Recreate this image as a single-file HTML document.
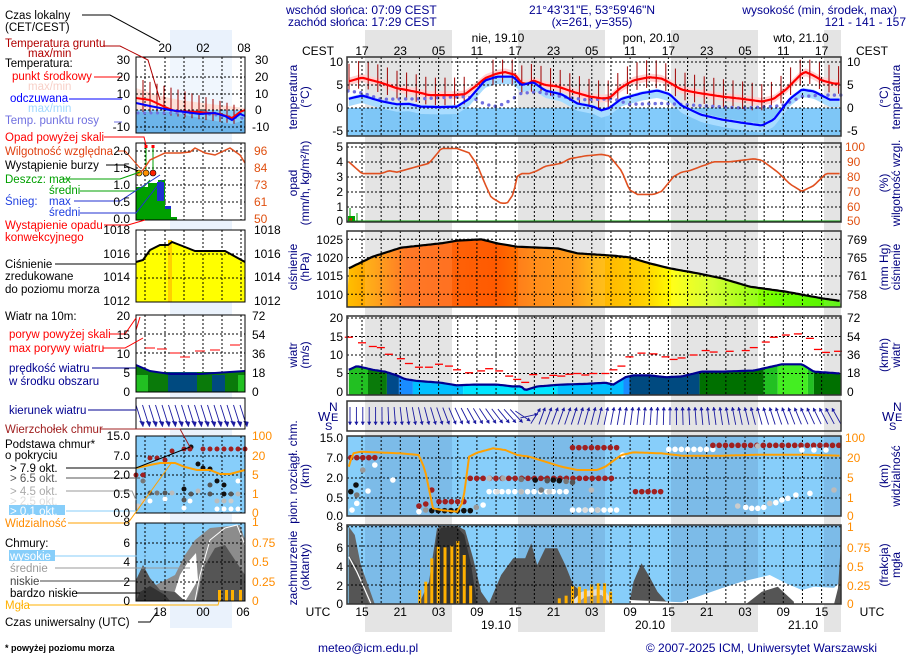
<!DOCTYPE html>
<html><head><meta charset="utf-8">
<style>
html,body{margin:0;padding:0;background:#fff;}
svg{display:block;font-family:"Liberation Sans",sans-serif;}
text{font-size:12px;}
.ax{fill:#000080;font-size:13px;}
.t{fill:#000;}
</style></head>
<body>
<svg id="s" width="910" height="660" viewBox="0 0 910 660" xmlns="http://www.w3.org/2000/svg">
<defs>
<linearGradient id="pg" x1="347" x2="841" y1="0" y2="0" gradientUnits="userSpaceOnUse">
<stop offset="0" stop-color="#ffc000"/>
<stop offset="0.05" stop-color="#ffa000"/>
<stop offset="0.12" stop-color="#ff6a10"/>
<stop offset="0.3" stop-color="#ff5a00"/>
<stop offset="0.38" stop-color="#ff8000"/>
<stop offset="0.46" stop-color="#ff9000"/>
<stop offset="0.5" stop-color="#ffb000"/>
<stop offset="0.6" stop-color="#ffd000"/>
<stop offset="0.66" stop-color="#ffff00"/>
<stop offset="0.74" stop-color="#d0ff20"/>
<stop offset="0.8" stop-color="#a0ff00"/>
<stop offset="0.87" stop-color="#70ff00"/>
<stop offset="1" stop-color="#50f000"/>
</linearGradient>
</defs>
<g id="bg"></g>
<g id="main"></g>
<g id="left"></g>
<text x="286" y="14" fill="#000090">wschód słońca: 07:09 CEST</text>
<text x="288" y="26" fill="#000090">zachód słońca: 17:29 CEST</text>
<text x="592" y="14" fill="#000090" text-anchor="middle">21°43'31"E, 53°59'46"N</text>
<text x="592" y="26" fill="#000090" text-anchor="middle">(x=261,  y=355)</text>
<text x="897" y="14" fill="#000090" text-anchor="end">wysokość (min, środek, max)</text>
<text x="872" y="26" fill="#000090" text-anchor="middle">121 - 141 - 157 m</text>
<text x="498" y="42" text-anchor="middle">nie, 19.10</text>
<text x="651" y="42" text-anchor="middle">pon, 20.10</text>
<text x="801" y="42" text-anchor="middle">wto, 21.10</text>
<text x="318" y="55" text-anchor="middle">CEST</text>
<text x="872" y="55" text-anchor="middle">CEST</text>
<g text-anchor="middle" id="hours"></g>
<g class="ax" text-anchor="middle">
<text transform="translate(297,97) rotate(-90)">temperatura</text>
<text transform="translate(309,97) rotate(-90)">(°C)</text>
<text transform="translate(297,183) rotate(-90)">opad</text>
<text transform="translate(309,183) rotate(-90)">(mm/h, kg/m²/h)</text>
<text transform="translate(297,267) rotate(-90)">ciśnienie</text>
<text transform="translate(309,267) rotate(-90)">(hPa)</text>
<text transform="translate(297,355) rotate(-90)">wiatr</text>
<text transform="translate(309,355) rotate(-90)">(m/s)</text>
<text transform="translate(297,472) rotate(-90)">pion. rozciągł. chm.</text>
<text transform="translate(309,476) rotate(-90)">(km)</text>
<text transform="translate(297,568) rotate(-90)">zachmurzenie</text>
<text transform="translate(309,567) rotate(-90)">(oktanty)</text>
<text transform="translate(888,97) rotate(-90)">(°C)</text>
<text transform="translate(900,97) rotate(-90)">temperatura</text>
<text transform="translate(888,183) rotate(-90)">(%)</text>
<text transform="translate(900,183) rotate(-90)">wilgotność wzgl.</text>
<text transform="translate(888,267) rotate(-90)">(mm Hg)</text>
<text transform="translate(900,267) rotate(-90)">ciśnienie</text>
<text transform="translate(888,355) rotate(-90)">(km/h)</text>
<text transform="translate(900,355) rotate(-90)">wiatr</text>
<text transform="translate(888,476) rotate(-90)">(km)</text>
<text transform="translate(900,476) rotate(-90)">widzialność</text>
<text transform="translate(888,565) rotate(-90)">(frakcja)</text>
<text transform="translate(900,565) rotate(-90)">mgła</text>
</g>
<g fill="#000080" font-size="13">
<text x="318" y="421" style="font-size:13px">W</text><text x="329" y="411" style="font-size:12px">N</text><text x="331" y="421" style="font-size:11px">E</text><text x="325" y="430" style="font-size:11px">S</text>
<text x="882" y="421" style="font-size:13px">W</text><text x="893" y="411" style="font-size:12px">N</text><text x="895" y="421" style="font-size:11px">E</text><text x="889" y="430" style="font-size:11px">S</text>
</g>
<g text-anchor="end" class="t">
<text x="343" y="66">10</text><text x="343" y="89">5</text><text x="343" y="112">0</text><text x="343" y="135">-5</text>
<text x="343" y="151">5</text><text x="343" y="166">4</text><text x="343" y="181">3</text><text x="343" y="196">2</text><text x="343" y="211">1</text><text x="343" y="225">0</text>
<text x="343" y="244">1025</text><text x="343" y="262">1020</text><text x="343" y="280">1015</text><text x="343" y="299">1010</text>
<text x="343" y="322">20</text><text x="343" y="341">15</text><text x="343" y="359">10</text><text x="343" y="377">5</text><text x="343" y="396">0</text>
<text x="343" y="442">15.0</text><text x="343" y="462">7.0</text><text x="343" y="482">2.0</text><text x="343" y="502">0.5</text><text x="343" y="520">0.0</text>
<text x="343" y="531">8</text><text x="343" y="552">6</text><text x="343" y="571">4</text><text x="343" y="590">2</text><text x="343" y="608">0</text>
</g>
<g class="t">
<text x="847" y="66">10</text><text x="847" y="89">5</text><text x="847" y="112">0</text><text x="847" y="135">-5</text>
<text x="847" y="244">769</text><text x="847" y="262">765</text><text x="847" y="280">761</text><text x="847" y="299">758</text>
<text x="847" y="322">72</text><text x="847" y="341">54</text><text x="847" y="359">36</text><text x="847" y="377">18</text><text x="847" y="396">0</text>
</g>
<g fill="#e05010">
<text x="845" y="151">100</text><text x="847" y="166">90</text><text x="847" y="181">80</text><text x="847" y="196">70</text><text x="847" y="211">60</text><text x="847" y="225">50</text>
</g>
<g fill="#ff8c00">
<text x="845" y="442">100</text><text x="847" y="462">20</text><text x="847" y="482">5</text><text x="847" y="502">1</text><text x="847" y="520">0</text>
<text x="847" y="531">1</text><text x="847" y="552">0.75</text><text x="847" y="571">0.5</text><text x="847" y="590">0.25</text><text x="847" y="608">0</text>
</g>
<text x="318" y="616" text-anchor="middle">UTC</text>
<text x="872" y="616" text-anchor="middle">UTC</text>
<g id="utc" text-anchor="middle"></g>
<text x="496" y="629" text-anchor="middle">19.10</text>
<text x="650" y="629" text-anchor="middle">20.10</text>
<text x="803" y="629" text-anchor="middle">21.10</text>
<text x="318" y="652" fill="#000090">meteo@icm.edu.pl</text>
<text x="877" y="652" fill="#000090" text-anchor="end">© 2007-2025 ICM, Uniwersytet Warszawski</text>

<g style="font-size:11.5px">
<text x="5" y="19" style="font-size:11.5px">Czas lokalny</text>
<text x="5" y="31" style="font-size:11.5px">(CET/CEST)</text>
<text x="5" y="47" fill="#b00000" style="font-size:11.5px">Temperatura gruntu</text>
<text x="28" y="57" fill="#b00000" style="font-size:11.5px">max/min</text>
<text x="5" y="67" style="font-size:11.5px">Temperatura:</text>
<text x="12" y="80" fill="#ff0000" style="font-size:11.5px">punkt środkowy</text>
<text x="28" y="90" fill="#f8d0c8" style="font-size:11.5px">max/min</text>
<text x="10" y="102" fill="#0000ff" style="font-size:11.5px">odczuwana</text>
<text x="28" y="112" fill="#a0d8ff" style="font-size:11.5px">max/min</text>
<text x="5" y="124" fill="#7070e0" style="font-size:11.5px">Temp. punktu rosy</text>
<text x="5" y="141" fill="#ff0000" style="font-size:11.5px">Opad powyżej skali</text>
<text x="5" y="155" fill="#e04010" style="font-size:11.5px">Wilgotność względna</text>
<text x="5" y="169" style="font-size:11.5px">Wystąpienie burzy</text>
<text x="5" y="183" fill="#00a000" style="font-size:11.5px">Deszcz: max</text>
<text x="49" y="194" fill="#00a000" style="font-size:11.5px">średni</text>
<text x="5" y="205" fill="#2040e0" style="font-size:11.5px">Śnieg:</text>
<text x="49" y="205" fill="#2040e0" style="font-size:11.5px">max</text>
<text x="49" y="216" fill="#2040e0" style="font-size:11.5px">średni</text>
<text x="5" y="229" fill="#ff0000" style="font-size:11.5px">Wystąpienie opadu</text>
<text x="5" y="241" fill="#ff0000" style="font-size:11.5px">konwekcyjnego</text>
<text x="5" y="268" style="font-size:11.5px">Ciśnienie</text>
<text x="5" y="280" style="font-size:11.5px">zredukowane</text>
<text x="5" y="293" style="font-size:11.5px">do poziomu morza</text>
<text x="5" y="320" style="font-size:11.5px">Wiatr na 10m:</text>
<text x="9" y="338" fill="#ff0000" style="font-size:11.5px">poryw powyżej skali</text>
<text x="9" y="352" fill="#ff0000" style="font-size:11.5px">max porywy wiatru</text>
<text x="9" y="372" fill="#000090" style="font-size:11.5px">prędkość wiatru</text>
<text x="9" y="385" fill="#000090" style="font-size:11.5px">w środku obszaru</text>
<text x="9" y="414" fill="#000090" style="font-size:11.5px">kierunek wiatru</text>
<text x="5" y="433" fill="#a02020" style="font-size:11.5px">Wierzchołek chmur</text>
<text x="5" y="448" style="font-size:11.5px">Podstawa chmur*</text>
<text x="5" y="459" style="font-size:11.5px">o pokryciu</text>
<text x="10" y="472" style="font-size:11.5px">&gt; 7.9 okt.</text>
<text x="10" y="482" fill="#555" style="font-size:11.5px">&gt; 6.5 okt.</text>
<rect x="9" y="485" width="56" height="9" fill="#fff"/>
<text x="10" y="495" fill="#aaa" style="font-size:11.5px">&gt; 4.5 okt.</text>
<text x="10" y="505" fill="#ddd" style="font-size:11.5px">&gt; 2.5 okt.</text>
<rect x="9" y="505" width="56" height="10" fill="#87cefa"/>
<text x="10" y="515" fill="#fff" style="font-size:11.5px">&gt; 0.1 okt.</text>
<text x="5" y="527" fill="#ff8c00" style="font-size:11.5px">Widzialność</text>
<text x="5" y="547" style="font-size:11.5px">Chmury:</text>
<rect x="9" y="550" width="46" height="11" fill="#87cefa"/>
<text x="10" y="560" fill="#fff" style="font-size:11.5px">wysokie</text>
<text x="10" y="572" fill="#999" style="font-size:11.5px">średnie</text>
<text x="10" y="585" fill="#444" style="font-size:11.5px">niskie</text>
<text x="10" y="597" style="font-size:11.5px">bardzo niskie</text>
<text x="5" y="609" fill="#ffb000" style="font-size:11.5px">Mgła</text>
<text x="5" y="626" style="font-size:11.5px">Czas uniwersalny (UTC)</text>
<text x="5" y="651" style="font-size:9px;font-weight:bold">* powyżej poziomu morza</text>
</g>
<g text-anchor="middle">
<text x="165" y="52">20</text><text x="203" y="52">02</text><text x="244" y="52">08</text>
<text x="160" y="616">18</text><text x="203" y="616">00</text><text x="243" y="616">06</text>
</g>
<g text-anchor="end" style="font-size:11px">
<text x="130" y="64">30</text><text x="130" y="81">20</text><text x="130" y="98">10</text><text x="130" y="114">0</text><text x="130" y="131">-10</text>
<text x="130" y="155">2.0</text><text x="130" y="172">1.5</text><text x="130" y="189">1.0</text><text x="130" y="206">0.5</text><text x="130" y="223">0.0</text>
<text x="130" y="234">1018</text><text x="130" y="258">1016</text><text x="130" y="281">1014</text><text x="130" y="305">1012</text>
<text x="130" y="320">20</text><text x="130" y="339">15</text><text x="130" y="358">10</text><text x="130" y="377">5</text><text x="130" y="396">0</text>
<text x="130" y="440">15.0</text><text x="130" y="460">7.0</text><text x="130" y="479">2.0</text><text x="130" y="498">0.5</text><text x="130" y="517">0.0</text>
<text x="130" y="526">8</text><text x="130" y="547">6</text><text x="130" y="566">4</text><text x="130" y="586">2</text><text x="130" y="605">0</text>
</g>
<g style="font-size:11px">
<text x="255" y="64">30</text><text x="255" y="81">20</text><text x="255" y="98">10</text><text x="255" y="114">0</text><text x="252" y="131">-10</text>
<text x="254" y="234">1018</text><text x="254" y="258">1016</text><text x="254" y="281">1014</text><text x="254" y="305">1012</text>
<text x="252" y="320">72</text><text x="252" y="339">54</text><text x="252" y="358">36</text><text x="252" y="377">18</text><text x="252" y="396">0</text>
</g>
<g fill="#e05010" style="font-size:11px"><text x="254" y="155">96</text><text x="254" y="172">84</text><text x="254" y="189">73</text><text x="254" y="206">61</text><text x="254" y="223">50</text></g>
<g fill="#ff8c00" style="font-size:11px"><text x="252" y="440">100</text><text x="252" y="460">20</text><text x="252" y="479">5</text><text x="252" y="498">1</text><text x="252" y="517">0</text>
<text x="252" y="526">1</text><text x="252" y="547">0.75</text><text x="252" y="566">0.5</text><text x="252" y="586">0.25</text><text x="252" y="605">0</text></g>
</svg>
<script>
(function(){
var NS='http://www.w3.org/2000/svg';
function el(t,a,p){var e=document.createElementNS(NS,t);for(var k in a)e.setAttribute(k,a[k]);p.appendChild(e);return e;}
var bg=document.getElementById('bg'),M=document.getElementById('main'),L=document.getElementById('left');
var X=function(z){return 362+0.401*(z-203);};
function P(pts){return 'M'+pts.map(function(p){return p[0].toFixed(1)+','+p[1].toFixed(1);}).join('L');}
function ip(d,z){if(z<=d[0][0])return d[0][1];for(var i=1;i<d.length;i++){if(z<=d[i][0]){var a=d[i-1],b=d[i];return a[1]+(b[1]-a[1])*(z-a[0])/(b[0]-a[0]);}}return d[d.length-1][1];}
var nights=[[365,452],[518,605],[671,758],[824,841]];
el('rect',{x:170,y:30,width:62,height:598,fill:'#eaf2fc'},bg);
nights.forEach(function(n){el('rect',{x:n[0],y:30,width:n[1]-n[0],height:602,fill:'#e4e4e4'},bg);});
var H=document.getElementById('hours'),U=document.getElementById('utc');
var lab=['17','23','05','11','17','23','05','11','17','23','05','11','17'];
var ul=['15','21','03','09','15','21','03','09','15','21','03','09','15'];
for(var i=0;i<13;i++){var x=362+38.3*i;var t=el('text',{x:x,y:55},H);t.textContent=lab[i];var u=el('text',{x:x,y:616},U);u.textContent=ul[i];}
function panel(y0,y1,bgc,nightc){
  el('rect',{x:347,y:y0,width:494,height:y1-y0,fill:bgc},M);
  if(nightc)nights.forEach(function(n){el('rect',{x:n[0],y:y0,width:n[1]-n[0],height:y1-y0,fill:nightc},M);});
}
function grid(y0,y1,ys){
  var g=el('g',{stroke:'#000','stroke-width':1,'stroke-dasharray':'2,2',fill:'none'},M);
  for(var k=0;k<26;k++){var x=362+19.15*k;if(x<840)el('line',{x1:x,y1:y0,x2:x,y2:y1},g);}
  ys.forEach(function(y){el('line',{x1:347,y1:y,x2:841,y2:y},g);});
}
function frame(y0,y1){el('rect',{x:347,y:y0,width:494,height:y1-y0,fill:'none',stroke:'#333','stroke-width':1.5},M);}
var yT=function(T){return 108-4.6*T;};
panel(57,136,'#fff','#e4e4e4');
el('rect',{x:347,y:108,width:494,height:28,fill:'rgba(100,190,250,0.8)'},M);
var red=[[170,5.8],[203,6.6],[250,5.5],[290,4.3],[340,3.5],[370,2.8],[430,2.8],[460,3],[490,5],[510,6.5],[540,7.5],[560,7.8],[585,7.2],[600,5.5],[615,5.2],[630,6],[660,5],[690,4.7],[730,3.5],[770,2.5],[800,2.1],[820,2.2],[850,4.5],[880,6],[920,6.7],[950,6.4],[970,5.5],[1000,4],[1040,3.3],[1100,2.5],[1150,2.0],[1200,1.4],[1230,2],[1260,4],[1300,7.5],[1310,7.8],[1330,7],[1350,6],[1380,5.3],[1397,5.3]];
var blue=[[170,2],[203,2.7],[250,1.5],[290,0.8],[320,0.9],[350,0.3],[400,0.2],[440,0.3],[470,2],[510,6],[540,6.8],[580,6.8],[600,5],[615,5.3],[630,5.6],[660,3.8],[700,3],[740,1],[780,0.3],[800,-0.5],[820,0],[850,2],[900,3.2],[940,3.8],[970,3],[1000,0.5],[1050,-1.5],[1100,-2.5],[1150,-3.2],[1200,-3.8],[1230,-2.5],[1270,2],[1300,4],[1330,3.6],[1370,1.8],[1397,1.8]];
var zs=[];for(var z=170;z<=1397;z+=6)zs.push(z);
function band(d,up,dn,col){var a=zs.map(function(z){return [X(z),yT(ip(d,z)+up)];});var b=zs.slice().reverse().map(function(z){return [X(z),yT(ip(d,z)-dn)];});el('path',{d:P(a.concat(b))+'Z',fill:col},M);}
band(red,0.8,0.9,'#ffd2d2');
band(blue,0.4,1.6,'#a8dcff');
var g=el('g',{stroke:'#a00000','stroke-width':1},M);
for(var x=349;x<840;x+=9.6){var z=(x-362)/0.401+203;var r=ip(red,z);var top=Math.min(r+3.8,10.5),bot=Math.max(r-2.2,-0.5);if(z>480&&z<520)continue;el('line',{x1:x,y1:yT(top),x2:x,y2:yT(bot)},g);}
var dew=[[170,3.7],[203,3.3],[250,1.9],[350,2],[450,2.5],[480,2.2],[510,0.8],[540,0.3],[570,1.5],[600,3.2],[640,3.5],[700,2.5],[760,1.8],[830,2],[870,0.8],[950,1],[1000,0.8],[1050,0.5],[1150,0],[1200,0.2],[1250,0.5],[1300,2.5],[1350,2.8],[1397,2.8]];
for(var x=348;x<842;x+=6.4){var z=(x-362)/0.401+203;el('circle',{cx:x,cy:yT(ip(dew,z)),r:1.7,fill:'#6f6fe0'},M);}
grid(57,136,[yT(10),yT(5),yT(0),yT(-5)]);
el('path',{d:P(zs.map(function(z){return [X(z),yT(ip(red,z))];})),fill:'none',stroke:'#ff0000','stroke-width':2.2},M);
el('path',{d:P(zs.map(function(z){return [X(z),yT(ip(blue,z))];})),fill:'none',stroke:'#0000ff','stroke-width':2.2},M);
frame(57,136);
panel(143,222,'#fff','#e4e4e4');
grid(143,222,[147,162,177,192,207]);
var hum=[[170,90],[203,82],[250,82],[270,84],[290,83],[330,86],[370,89],[392,96],[400,99],[440,99],[470,96],[490,88],[510,75],[525,66],[550,62],[565,62],[580,68],[590,80],[600,82],[620,82],[640,84],[660,87],[700,89],[720,92],[760,94],[800,95],[820,94],[850,84],[870,71],[890,68],[930,68],[950,70],[980,80],[1000,83],[1020,84],[1060,88],[1080,90],[1120,90],[1150,91],[1180,92],[1200,91],[1240,83],[1270,75],[1300,70],[1330,74],[1360,82],[1397,82]];
el('path',{d:P(zs.map(function(z){return [X(z),147+(100-ip(hum,z))*1.48];})),fill:'none',stroke:'#e05020','stroke-width':1.6},M);
el('rect',{x:348,y:216,width:7,height:5,fill:'#00a000'},M);
el('rect',{x:349,y:218,width:3,height:3,fill:'#ff0000'},M);
el('line',{x1:350,y1:208,x2:350,y2:221,stroke:'#00a000'},M);
el('line',{x1:357,y1:213,x2:357,y2:221,stroke:'#00a000'},M);
el('line',{x1:347,y1:221,x2:841,y2:221,stroke:'#00a000'},M);
frame(143,222);
panel(231,307,'#fff','#e4e4e4');
var pr=[[170,130],[230,95],[300,68],[400,55],[440,47],[500,43],[540,55],[590,65],[690,70],[740,85],[830,92],[870,97],[920,115],[970,130],[1040,145],[1100,160],[1170,185],[1260,200],[1350,220],[1397,228]];
var pp=zs.map(function(z){return [X(z),225+ip(pr,z)/3];});
el('path',{d:P(pp)+'L841,307L347,307Z',fill:'url(#pg)'},M);
nights.forEach(function(n){el('rect',{x:n[0],y:231,width:n[1]-n[0],height:76,fill:'rgba(255,255,255,0.1)'},M);});
grid(231,307,[239.3,257.6,276,294.3]);
el('path',{d:P(pp),fill:'none',stroke:'#000','stroke-width':2.2},M);
frame(231,307);
var yW=function(v){return 392-3.7*v;};
panel(316,395,'#fff','#e4e4e4');
var ws=[[170,6],[190,7],[230,6],[260,5.5],[290,4.5],[310,3.5],[340,3],[400,2.5],[440,1.8],[480,2],[540,2],[580,1.5],[600,1.5],[610,0.5],[640,1.5],[700,2],[760,2.2],[810,2.5],[830,2],[860,4],[880,4.5],[920,4.5],[960,4],[1000,4.2],[1050,5.5],[1100,5.5],[1180,5.8],[1210,6.5],[1250,7.5],[1300,7.5],[1330,5.5],[1397,5]];
var cols=[[170,218,'#22c022'],[218,265,'#0a7a0a'],[265,295,'#004a8a'],[295,330,'#1a8cff'],[330,455,'#00bfff'],[455,690,'#00e5ff'],[690,855,'#00bfff'],[855,870,'#1a8cff'],[870,1045,'#004a80'],[1045,1205,'#007000'],[1205,1240,'#22c022'],[1240,1315,'#44ee22'],[1315,1330,'#22c022'],[1330,1397,'#007000']];
cols.forEach(function(c){var pts=[];for(var z=c[0];z<=c[1];z+=3)pts.push([X(z),yW(ip(ws,z))]);pts.push([X(c[1]),yW(ip(ws,c[1]))]);el('path',{d:P(pts)+'L'+X(c[1]).toFixed(1)+',395L'+X(c[0]).toFixed(1)+',395Z',fill:c[2]},M);});
grid(316,395,[yW(20),yW(15),yW(10),yW(5)]);
el('path',{d:P(zs.map(function(z){return [X(z),yW(ip(ws,z))];})),fill:'none',stroke:'#000090','stroke-width':2.2},M);
var gu=[[170,14.8],[203,13.3],[230,12.3],[250,12],[270,10.2],[300,9],[320,7.7],[345,6.7],[370,6.7],[395,7.5],[420,7],[440,6],[470,5.2],[500,5.7],[520,6.3],[545,5.7],[570,4.3],[590,3.4],[610,2.6],[630,4.7],[660,3.8],[680,4.5],[700,4.3],[720,4.8],[740,5],[760,4.6],[780,5],[810,5],[830,6],[850,7],[870,9.5],[900,10.5],[930,10.3],[960,9.5],[980,8.8],[1000,9.2],[1030,10],[1060,11.2],[1080,10.8],[1120,11],[1160,11.2],[1180,12],[1210,13.5],[1230,14.8],[1260,15.4],[1290,15.7],[1320,14.5],[1340,11.5],[1360,10.7],[1390,11]];
gu.forEach(function(q){el('line',{x1:X(q[0])-4,y1:yW(q[1]),x2:X(q[0])+4,y2:yW(q[1]),stroke:'#ff0000','stroke-width':1.3},M);});
frame(316,395);
panel(401,431,'#fff','#e4e4e4');
function ang(z){if(z<250)return 180;if(z<600)return 180-(z-250)/350*45;if(z<640)return 135-(z-600)/40*115;if(z<700)return 20;return 20-(z-700)/697*50;}
var ag=el('g',{stroke:'#1a1aa0',fill:'#1a1aa0','stroke-width':0.9},M);
for(var x=350;x<840;x+=6.4){var z=(x-362)/0.401+203;var a=ang(z)*Math.PI/180;var dx=Math.sin(a)*9,dy=-Math.cos(a)*9;var cx=x,cy=416;var x2=cx+dx,y2=cy+dy;el('line',{x1:cx-dx,y1:cy-dy,x2:x2,y2:y2},ag);var px=-dy/9*1.8,py=dx/9*1.8;var bx=x2-dx*0.35,by=y2-dy*0.35;el('path',{d:'M'+x2+','+y2+'L'+(bx+px)+','+(by+py)+'L'+(bx-px)+','+(by-py)+'Z','stroke-width':0.3},ag);}
frame(401,431);
panel(436,516,'#87cefa','#7cbbe8');
grid(436,516,[458,478,498]);
var Y3=function(zy){return 310+zy/3;};
var dots=[];
function row(z0,z1,st,zy,c){for(var z=z0;z<=z1;z+=st)dots.push([z,zy,c]);}
row(175,235,15,443,'#a02020');
dots.push([178,600,'#fff'],[190,580,'#fff'],[190,555,'#777'],[175,545,'#111'],[188,525,'#111'],[205,480,'#999'],[218,543,'#fff'],[235,465,'#fff'],[280,510,'#fff']);
dots.push([345,588,'#a02020'],[362,582,'#a02020'],[377,540,'#a02020'],[345,605,'#fff'],[362,600,'#999']);
row(395,457,15.5,575,'#a02020');row(377,473,16,602,'#111');dots.push([488,592,'#999'],[505,585,'#fff']);
row(520,712,16,545,'#fff');
row(473,830,16,505,'#a02020');
[[520,505,'#bbb'],[555,505,'#aaa'],[600,508,'#777'],[635,510,'#111'],[665,512,'#555'],[680,510,'#111'],[695,512,'#111'],[712,514,'#777'],[728,517,'#555'],[540,545,'#ddd'],[600,545,'#bbb'],[650,540,'#777'],[670,545,'#ccc'],[775,540,'#bbb']].forEach(function(d){dots.push(d);});
row(728,838,15.7,413,'#a02020');dots.push([853,435,'#fff']);
row(885,948,15.7,545,'#a02020');
row(728,838,15.7,600,'#fff');dots.push([790,600,'#ccc'],[760,600,'#ddd']);
row(968,1080,15.7,418,'#fff');
row(1078,1397,15.7,406,'#a02020');dots.push([1190,408,'#bbb']);
[1300,1330,1360].forEach(function(z){dots.push([z,420,'#fff']);});
[[1140,588,'#ccc'],[1160,592,'#fff'],[1175,595,'#fff'],[1190,595,'#fff'],[1205,592,'#fff'],[1220,580,'#ccc'],[1235,578,'#fff'],[1250,570,'#fff'],[1265,565,'#fff'],[1285,555,'#fff'],[1320,550,'#fff'],[1397,525,'#111'],[1380,540,'#bbb']].forEach(function(d){dots.push(d);});
dots.forEach(function(d){var x=X(d[0]);if(x<349||x>839)return;el('circle',{cx:x,cy:Y3(d[1]),r:2.8,fill:d[2]},M);});
var vis=[[170,470],[180,430],[200,425],[300,430],[345,435],[360,480],[380,595],[400,600],[440,605],[455,575],[470,440],[490,428],[530,415],[560,420],[590,435],[620,440],[660,455],[700,470],[740,480],[790,480],[810,470],[850,435],[880,427],[950,430],[1000,437],[1100,437],[1200,434],[1300,434],[1397,437]];
el('path',{d:P(zs.map(function(z){return [X(z),Y3(ip(vis,z))];})),fill:'none',stroke:'#ffa000','stroke-width':2},M);
frame(436,516);
var Y4=function(zy){return 515+zy/3;};
panel(525,604,'#87cefa','#7cbbe8');
function poly(arr,col){el('path',{d:P(arr.map(function(p){return [X(p[0]),Y4(p[1])];}))+'Z',fill:col},M);}
poly([[170,268],[235,268],[215,200],[200,150],[185,60],[170,35]],'#666');
poly([[170,268],[220,268],[205,210],[190,150],[170,120]],'#555');
poly([[345,268],[370,200],[390,40],[400,33],[440,33],[460,45],[480,130],[500,230],[520,265],[520,268]],'#555');
poly([[375,268],[390,60],[400,38],[440,36],[458,60],[475,150],[490,268]],'#333');
poly([[520,268],[520,265],[550,180],[580,130],[610,130],[625,85],[640,150],[660,100],[690,100],[710,150],[730,210],[750,230],[790,225],[810,230],[830,262],[830,268]],'#555');
poly([[870,268],[870,262],[880,200],[900,145],[920,185],[940,230],[960,258],[970,262],[970,268]],'#555');
poly([[870,268],[870,255],[1000,262],[1100,220],[1150,200],[1220,180],[1260,205],[1300,225],[1330,215],[1380,218],[1397,200],[1397,268]],'#fff');
poly([[1160,268],[1200,230],[1240,215],[1280,260],[1280,268]],'#555');
poly([[1380,268],[1390,220],[1397,90],[1397,268]],'#555');
poly([[720,268],[750,230],[790,222],[810,228],[830,262],[830,268]],'#ddd');
poly([[735,268],[760,245],[800,240],[825,268]],'#999');
el('path',{d:P([[X(170),Y4(125)],[X(190),Y4(170)],[X(205),Y4(210)],[X(225),Y4(265)]]),stroke:'#fff',fill:'none','stroke-width':1.2},M);
var fog=[[347,225],[362,200],[377,130],[393,95],[410,97],[427,92],[442,78],[458,120],[474,212],[695,250],[712,242],[728,213],[745,215],[760,222],[776,208],[792,205],[808,205],[823,230]];
fog.forEach(function(f){var x=X(f[0]);el('rect',{x:x-1.5,y:Y4(f[1]),width:3,height:604-Y4(f[1]),fill:'#ffb000'},M);});
grid(525,604,[526.7,546,566,585]);
frame(525,604);

function lf(y0,y1,c){el('rect',{x:136,y:y0,width:109,height:y1-y0,fill:c||'#fff'},L);}
function lfr(y0,y1){el('rect',{x:136,y:y0,width:109,height:y1-y0,fill:'none',stroke:'#000','stroke-width':1},L);}
function lg(y0,y1,ys){var g=el('g',{stroke:'#000','stroke-dasharray':'2,2'},L);[145,165,184,203,222,241].forEach(function(x){el('line',{x1:x,y1:y0,x2:x,y2:y1},g);});ys.forEach(function(y){el('line',{x1:136,y1:y,x2:245,y2:y},g);});}
function pl(pts,col,w){el('path',{d:P(pts),fill:'none',stroke:col,'stroke-width':w||1.5},L);}
function pg(pts,col){el('path',{d:P(pts)+'Z',fill:col},L);}
lf(57,133,'rgba(255,255,255,0.3)');
pg([[136,88],[160,96],[180,100],[210,104],[245,108],[245,133],[136,133]],'#fde0d8');
pg([[136,110],[245,110],[245,133],[136,133]],'#87cefa');
pg([[136,112],[170,112],[200,118],[232,124],[245,120],[245,133],[136,133]],'#6cb4ea');
var tg=el('g',{stroke:'#a00000'},L);[143,150,157,164,171,178,185,192,199,206,213,220,227,234].forEach(function(x,i){el('line',{x1:x,y1:80+i*1.9,x2:x,y2:112+i*0.9},tg);});
lg(57,133,[77,94,110,127]);
for(var x=138;x<245;x+=6.5)el('circle',{cx:x,cy:113+(x>200?(x-200)/8:0),r:1.5,fill:'#7070e0'},L);
pl([[136,98],[150,100],[165,107],[175,111],[200,112],[220,114],[232,118],[240,112],[245,110]],'#ff0000',2);
pl([[136,103],[150,106],[170,110],[185,112],[200,114],[215,113],[225,116],[232,120],[240,114],[245,116]],'#0000ff',2);
lfr(57,133);
lf(143,220);
lg(143,220,[151,168,185,202]);
el('rect',{x:136,y:187,width:12,height:33,fill:'#00a000'},L);
el('rect',{x:148,y:183,width:10,height:37,fill:'#00a000'},L);
el('rect',{x:158,y:180,width:7,height:40,fill:'#00a000'},L);
el('rect',{x:157,y:182,width:7,height:19,fill:'#2030d0'},L);
el('rect',{x:165,y:206,width:6,height:14,fill:'#00a000'},L);
el('rect',{x:165,y:206,width:6,height:3,fill:'#2030d0'},L);
el('rect',{x:171,y:217,width:6,height:3,fill:'#00a000'},L);
[[146,'#ff0000'],[153,'#ff0000']].forEach(function(q){el('line',{x1:q[0],y1:147,x2:q[0],y2:173,stroke:'#00a000'},L);el('rect',{x:q[0]-1.5,y:145,width:3,height:3,fill:q[1]},L);});
[[139,'#ffd000'],[146,'#ff9000'],[153,'#ff2000']].forEach(function(q){el('circle',{cx:q[0],cy:173,r:3,fill:q[1],stroke:'#000','stroke-width':0.6},L);});
pl([[136,175],[143,170],[150,160],[165,153],[180,153],[190,152],[195,148],[205,153],[215,155],[230,148],[240,155],[245,163]],'#e05020',1.5);
lfr(143,220);
lf(230,302);
lg(230,302,[254,278]);
var lp=[[136,262],[143,260],[150,250],[160,245],[168,245],[172,242],[185,247],[195,251],[225,251],[245,262]];
pg(lp.concat([[245,302],[136,302]]),'#ffff00');
el('rect',{x:168,y:240,width:4,height:62,fill:'#ffd000'},L);
lg(230,302,[254,278]);
pl(lp,'#000',2);
lfr(230,302);
lf(315,392);
lg(315,392,[334,353,373]);
var wc=[[136,148,'#22c022'],[148,168,'#0a7a0a'],[168,197,'#004a80'],[197,212,'#0a7a0a'],[212,225,'#004a80'],[225,238,'#0a7a0a'],[238,245,'#22c022']];
wc.forEach(function(c){el('rect',{x:c[0],y:372,width:c[1]-c[0],height:20,fill:c[2]},L);});
pg([[136,365],[150,371],[170,374],[200,374],[230,372],[245,371],[245,376],[136,376]],'#0a7a0a');
wc.forEach(function(c){el('rect',{x:c[0],y:375,width:c[1]-c[0],height:17,fill:c[2]},L);});
pl([[136,365],[150,371],[170,374],[200,374],[230,372],[245,371]],'#000090',2);
[[150,348],[162,349],[175,353],[185,357],[200,351],[215,350],[235,345]].forEach(function(q){el('line',{x1:q[0]-5,y1:q[1],x2:q[0]+5,y2:q[1],stroke:'#ff0000'},L);});
el('line',{x1:136,y1:330,x2:140,y2:317,stroke:'#ff0000'},L);
lfr(315,392);
lf(398,429);
var dg=el('g',{stroke:'#1a1aa0',fill:'#1a1aa0','stroke-width':0.9},L);
for(var x=140;x<246;x+=6.5){el('line',{x1:x-4,y1:405,x2:x+2,y2:424},dg);el('path',{d:'M'+(x+3)+',427L'+(x-0.5)+',421L'+(x+4.5)+',422Z','stroke-width':0.3},dg);}
lfr(398,429);
lf(436,513,'#87cefa');
lg(436,513,[456,475,494]);
[[136,475,'#a02020'],[143,475,'#a02020'],[150,458,'#a02020'],[157,458,'#a02020'],[165,460,'#a02020'],[172,451,'#a02020'],[184,449,'#a02020'],[191,447,'#111'],[190,449,'#a02020'],[203,449,'#a02020'],[210,449,'#a02020'],[217,449,'#a02020'],[224,449,'#a02020'],[231,449,'#a02020'],[238,449,'#a02020'],[245,449,'#a02020'],
[198,464,'#111'],[203,468,'#111'],[210,469,'#111'],[217,481,'#111'],[224,485,'#111'],[238,481,'#fff'],[143,481,'#777'],[150,493,'#555'],[157,493,'#777'],[165,493,'#555'],[172,493,'#bbb'],[184,489,'#111'],[191,494,'#555'],[198,491,'#bbb'],[210,485,'#555'],[210,494,'#555'],[224,494,'#111'],[231,494,'#555'],[238,494,'#bbb'],[143,501,'#ccc'],[150,501,'#fff'],[165,499,'#fff'],[184,500,'#555'],[190,501,'#fff'],[184,508,'#fff'],[217,501,'#bbb'],[224,501,'#bbb'],[231,501,'#ccc'],[217,509,'#fff'],[224,509,'#fff'],[231,509,'#fff'],[238,509,'#fff'],[138,506,'#ccc']].forEach(function(d){el('circle',{cx:d[0],cy:d[1],r:2.5,fill:d[2]},L);});
pl([[136,468],[150,465],[160,463],[175,463],[185,467],[197,470],[210,470],[220,474],[230,474],[245,470]],'#ffa000',2);
lfr(436,513);
lf(523,601,'#87cefa');
pg([[136,601],[150,588],[175,575],[185,555],[195,540],[210,528],[240,525],[245,540],[245,601]],'#8c8c8c');
pg([[172,600],[180,575],[188,562],[196,553],[198,580],[186,600]],'#fff');
pg([[136,601],[136,580],[143,565],[150,578],[160,590],[175,592],[185,601]],'#555');
pg([[196,601],[205,565],[215,548],[225,545],[235,560],[245,575],[245,601]],'#555');
pg([[136,601],[140,592],[150,586],[165,595],[170,601]],'#333');
pl([[195,601],[200,575],[210,540],[225,528],[237,525],[245,545]],'#fff',1);
lg(523,601,[543,562,582]);
[218,225,231,239].forEach(function(x){el('rect',{x:x,y:590,width:3,height:11,fill:'#ffb000'},L);});
lfr(523,601);
var cg=el('g',{fill:'none','stroke-width':1},L);
function cl(pts,c){el('path',{d:P(pts),stroke:c},cg);}
cl([[82,15],[110,15],[160,42]],'#000');
cl([[103,46],[120,46],[148,60],[160,100]],'#b00000');
cl([[94,77],[122,77]],'#ff0000');
cl([[69,99],[122,99]],'#0000ff');
cl([[114,122],[122,122]],'#7070e0');
cl([[104,137],[144,137],[146,145]],'#ff0000');
cl([[118,151],[125,151],[140,168]],'#e04010');
cl([[106,165],[124,165],[138,171]],'#000');
cl([[62,179],[120,179],[140,172]],'#00a000');
cl([[80,191],[140,191],[150,180]],'#00a000');
cl([[74,201],[120,201],[160,175]],'#2030d0');
cl([[80,213],[136,213],[162,180]],'#2030d0');
cl([[104,225],[128,225],[145,220]],'#ff0000');
cl([[55,264],[136,264]],'#000');
cl([[110,334],[125,334],[136,318]],'#ff0000');
cl([[103,348],[125,348],[143,338]],'#ff0000');
cl([[92,368],[136,368]],'#000090');
cl([[88,410],[136,410]],'#000090');
cl([[100,429],[180,429],[190,447]],'#a02020');
cl([[66,468],[136,468],[190,447]],'#000');
cl([[66,478],[140,478]],'#555');
cl([[66,491],[132,491],[136,500]],'#999');
cl([[66,511],[136,511]],'#87cefa');
cl([[68,523],[128,523],[172,462]],'#ffa000');
cl([[55,556],[180,556]],'#87cefa');
cl([[55,568],[190,568]],'#999');
cl([[40,581],[136,581]],'#444');
cl([[76,593],[140,593]],'#000');
cl([[28,605],[218,605],[220,598]],'#ffb000');
cl([[138,622],[150,622],[157,612]],'#000');
})();
</script>
</body></html>
